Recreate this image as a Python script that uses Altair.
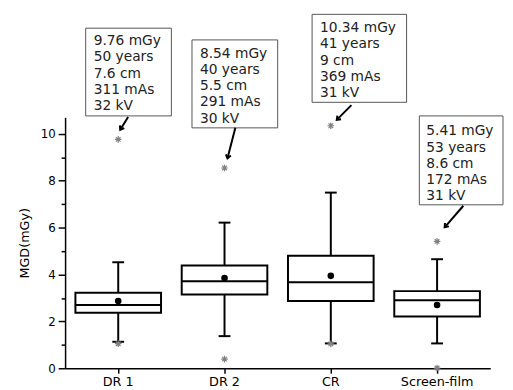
import math
import altair as alt
import pandas as pd

# ---- data ----
groups = ["DR 1", "DR 2", "CR", "Screen-film"]
whisker_low = [1.13, 1.37, 1.06, 1.06]
q1 = [2.37, 3.15, 2.87, 2.21]
median = [2.70, 3.71, 3.67, 2.90]
q3 = [3.22, 4.38, 4.80, 3.29]
whisker_high = [4.52, 6.21, 7.49, 4.65]
mean = [2.87, 3.85, 3.94, 2.70]

outlier_group = ["DR 1", "DR 1", "DR 2", "DR 2", "CR", "CR", "Screen-film", "Screen-film"]
outlier_value = [9.76, 1.05, 8.54, 0.39, 10.34, 1.04, 5.41, 0.01]

note_lines = [
    ["9.76 mGy", "50 years", "7.6 cm", "311 mAs", "32 kV"],
    ["8.54 mGy", "40 years", "5.5 cm", "291 mAs", "30 kV"],
    ["10.34 mGy", "41 years", "9 cm", "369 mAs", "31 kV"],
    ["5.41 mGy", "53 years", "8.6 cm", "172 mAs", "31 kV"],
]

# ---- annotation layout (category-index units on x, MGD units on y) ----
box_x1 = [-0.306, 0.694, 1.824, 2.833]
box_x2 = [0.500, 1.500, 2.713, 3.620]
box_y1 = [10.76, 10.25, 11.34, 6.97]
box_y2 = [14.50, 14.00, 15.09, 10.76]
text_x = [-0.231, 0.769, 1.898, 2.898]
text_y = [14.24, 13.70, 14.79, 10.39]
arr_x1 = [0.093, 1.102, 2.194, 3.247]
arr_y1 = [10.71, 10.25, 11.22, 6.93]
arr_x2 = [0.019, 1.028, 2.056, 3.071]
arr_y2 = [10.17, 8.95, 10.59, 6.01]

W, H = 432, 255
YMAX = 10.7
px_x = W / len(groups)
px_y = H / YMAX
angles = [math.degrees(math.atan2(-(b - a) * px_x, -(d - c) * px_y)) % 360
          for a, b, c, d in zip(arr_x1, arr_x2, arr_y1, arr_y2)]

stats = pd.DataFrame({"group": groups, "lo": whisker_low, "q1": q1, "med": median,
                      "q3": q3, "hi": whisker_high, "mean": mean})
outs = pd.DataFrame({"group": outlier_group, "v": outlier_value})
notes = pd.DataFrame({"bx1": box_x1, "bx2": box_x2, "by1": box_y1, "by2": box_y2,
                      "tx": text_x, "ty": text_y, "lines": note_lines,
                      "ax1": arr_x1, "ay1": arr_y1, "ax2": arr_x2, "ay2": arr_y2,
                      "ang": angles})

yscale = alt.Scale(domain=[0, YMAX], nice=False, zero=False)
yaxis = alt.Axis(
    title="MGD(mGy)", values=list(range(0, 11)),
    labelExpr="datum.value % 2 == 0 ? datum.label : ''",
    tickSize={"condition": {"test": "datum.value % 2 == 1", "value": 4}, "value": 7},
    grid=False, domainColor="black", domainWidth=1.5, tickColor="black", tickWidth=1.5,
    labelFont="DejaVu Sans", labelFontSize=12, labelColor="black", labelPadding=3,
    titleFont="DejaVu Sans", titleFontSize=13, titleFontWeight="normal",
    titleColor="black", titlePadding=9,
)


def Y(field):
    return alt.Y(field, scale=yscale, axis=yaxis, title="MGD(mGy)")


xenc = alt.X("group:N", sort=groups, title=None,
             scale=alt.Scale(paddingInner=0, paddingOuter=0),
             axis=alt.Axis(labelAngle=0, grid=False, domainColor="black", domainWidth=1.5,
                           tickColor="black", tickWidth=1.5, tickSize=5,
                           labelFont="DejaVu Sans", labelFontSize=13, labelColor="black",
                           labelPadding=3))

base = alt.Chart(stats)
whisk = base.mark_rule(color="black", strokeWidth=2).encode(
    x=xenc, y=Y("lo:Q"), y2="hi:Q")
box = base.mark_bar(width=87, fill="white", stroke="black", strokeWidth=2).encode(
    x=xenc, y=Y("q1:Q"), y2="q3:Q")
med = base.mark_tick(size=87, thickness=2, color="black", opacity=1).encode(
    x=xenc, y=Y("med:Q"))
cap_lo = base.mark_tick(size=12, thickness=2, color="black", opacity=1).encode(
    x=xenc, y=Y("lo:Q"))
cap_hi = base.mark_tick(size=12, thickness=2, color="black", opacity=1).encode(
    x=xenc, y=Y("hi:Q"))
mn = base.mark_point(filled=True, color="black", size=45, opacity=1).encode(
    x=xenc, y=Y("mean:Q"))
star = "M-1,0L1,0M0,-1L0,1M-0.7,-0.7L0.7,0.7M-0.7,0.7L0.7,-0.7"
out = alt.Chart(outs).mark_point(shape=star, color="#808080", strokeWidth=1.2, size=45,
                                 filled=False, opacity=1).encode(
    x=xenc, y=Y("v:Q"))

plot = alt.layer(whisk, box, med, cap_lo, cap_hi, mn, out)

xa = alt.Scale(domain=[-0.5, len(groups) - 0.5], nice=False, zero=False)
nb = alt.Chart(notes)
nrect = nb.mark_rect(fill="white", stroke="#555555", strokeWidth=1).encode(
    x=alt.X("bx1:Q", scale=xa, axis=None), x2="bx2:Q",
    y=Y("by1:Q"), y2="by2:Q")
ntext = nb.mark_text(align="left", baseline="top", font="DejaVu Sans", fontSize=14,
                     lineHeight=16.5, color="#222222").encode(
    x=alt.X("tx:Q", scale=xa, axis=None), y=Y("ty:Q"),
    text="lines")
nshaft = nb.mark_rule(color="black", strokeWidth=2).encode(
    x=alt.X("ax1:Q", scale=xa, axis=None), x2="ax2:Q",
    y=Y("ay1:Q"), y2="ay2:Q")
head = "M-0.55,-0.75L0,0L0.55,-0.75"
nhead = nb.mark_point(shape=head, filled=False, color="black", strokeWidth=2, size=90,
                      opacity=1).encode(
    x=alt.X("ax2:Q", scale=xa, axis=None), y=Y("ay2:Q"),
    angle=alt.Angle("ang:Q", scale=None))
ann = alt.layer(nrect, ntext, nshaft, nhead)

chart = alt.layer(plot, ann).resolve_scale(x="independent").properties(
    width=W, height=H,
    autosize=alt.AutoSizeParams(type="none"),
    padding={"left": 58, "top": 108, "right": 15, "bottom": 19},
).configure_view(stroke=None)

chart.save("out.html", embed_options={"renderer": "svg", "actions": False})
